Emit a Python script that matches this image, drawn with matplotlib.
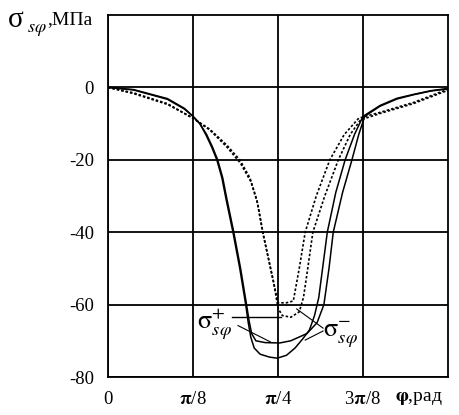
import numpy as np
import matplotlib
matplotlib.use('Agg')
import matplotlib.pyplot as plt

plt.rcParams['font.family'] = ['Liberation Serif', 'DejaVu Serif']
plt.rcParams['mathtext.fontset'] = 'stix'

# phi in units of pi/8, stress in MPa
s1_phi = [0, 0.3, 0.7, 0.9, 1.0, 1.08, 1.15, 1.22, 1.28, 1.34, 1.39, 1.47, 1.55, 1.62, 1.65, 1.68,
          1.72, 1.79, 1.9, 1.99, 2.1, 2.2, 2.29, 2.37, 2.43, 2.48, 2.53, 2.58, 2.68, 2.79,
          2.9, 3.0, 3.2, 3.4, 3.6, 3.8, 4.0]
s1_val = [0, -0.7, -3.3, -6.0, -8, -10, -13, -16.5, -20, -25, -31, -40, -50, -60, -65, -69,
          -72, -73.7, -74.5, -74.8, -74, -72, -69.5, -67, -63, -58, -49, -40, -29, -20,
          -13, -8, -5, -3, -1.9, -0.9, -0.3]

s2_phi = [0, 0.3, 0.7, 0.9, 1.0, 1.08, 1.16, 1.23, 1.29, 1.35, 1.40, 1.48, 1.56, 1.63, 1.66,
          1.69, 1.74, 1.85, 2.02, 2.15, 2.34, 2.46, 2.54, 2.6, 2.65, 2.76, 2.87, 2.95,
          3.02, 3.2, 3.4, 3.6, 3.8, 4.0]
s2_val = [0, -0.6, -3.1, -5.8, -8, -10, -13, -16.5, -20, -25, -31, -40, -50, -60, -64.5,
          -68, -70, -70.5, -70.6, -70, -68, -65, -60, -50, -40, -29, -20, -13,
          -8, -5.2, -3.2, -2.0, -1.0, -0.4]

d1_phi = [0, 0.3, 0.7, 1.0, 1.2, 1.4, 1.55, 1.67, 1.75, 1.82, 1.94, 2.0, 2.1, 2.18,
          2.25, 2.32, 2.45, 2.61, 2.78, 2.95, 3.2, 3.59, 3.9, 4.0]
d1_val = [0, -1.7, -4.7, -8.5, -11.6, -16, -20, -25, -31, -40, -53, -59.5, -59.5, -59,
          -50, -40, -30, -20, -13, -8.5, -6.9, -4.2, -1.4, -0.5]

d2_phi = [0, 0.3, 0.7, 1.0, 1.2, 1.4, 1.56, 1.68, 1.76, 1.83, 1.95, 2.0, 2.05, 2.15,
          2.25, 2.3, 2.35, 2.41, 2.55, 2.71, 2.85, 2.97, 3.2, 3.59, 3.9, 4.0]
d2_val = [0, -1.5, -4.5, -8.5, -11.8, -16.5, -21, -26, -32, -41, -54, -61, -63, -63.5,
          -62, -58, -50, -40, -30, -20, -13, -9, -7.2, -4.5, -1.7, -0.8]

x_ticks = [0, 1, 2, 3]
x_tick_labels = ['0', r'$\mathbf{\pi}$/8', r'$\mathbf{\pi}$/4', r'3$\mathbf{\pi}$/8']
y_ticks = [0, -20, -40, -60, -80]

u = np.pi / 8

fig = plt.figure(figsize=(4.6, 4.15), dpi=100)
ax = fig.add_axes([108 / 460, 38 / 415, 340 / 460, 362 / 415])

ax.plot(np.array(s1_phi) * u, s1_val, color='black', lw=1.1)
ax.plot(np.array(s2_phi) * u, s2_val, color='black', lw=1.1)
ax.plot(np.array(d1_phi) * u, d1_val, color='black', lw=1.2, ls=(0, (1.5, 1.2)))
ax.plot(np.array(d2_phi) * u, d2_val, color='black', lw=1.2, ls=(0, (1.5, 1.2)))

ax.set_xlim(0, 4 * u)
ax.set_ylim(-80, 20)
ax.set_xticks(np.array(x_ticks) * u)
ax.set_xticklabels(x_tick_labels)
ax.set_yticks(y_ticks)
ax.set_yticklabels([str(v) for v in y_ticks])
ax.tick_params(length=0, labelsize=13.5, pad=10)
ax.grid(True, color='black', lw=1.3)
for sp in ax.spines.values():
    sp.set_linewidth(1.3)

# leader labels
ax.plot([1.46 * u, 2.03 * u], [-63.5, -63.5], color='black', lw=1.0)
ax.plot([1.53 * u, 1.91 * u], [-65.8, -70.3], color='black', lw=0.8)
ax.text(1.46 * u, -65.5, r'$\mathrm{\sigma}^{+}_{s\varphi}$', ha='right', va='center', fontsize=19)
ax.plot([2.53 * u, 2.22 * u], [-66.5, -61.2], color='black', lw=0.8)
ax.plot([2.53 * u, 2.32 * u], [-67.3, -69.8], color='black', lw=0.8)
ax.text(2.53 * u, -68.5, r'$\mathrm{\sigma}^{-}_{s\varphi}$', ha='left', va='center', fontsize=19)

fig.text(8 / 460, 1 - 20 / 415, 'σ', fontsize=21, va='center')
fig.text(27 / 460, 1 - 29 / 415, r'$s\varphi$', fontsize=13, va='center')
fig.text(47 / 460, 1 - 20 / 415, ',МПа', fontsize=14, va='center')
fig.text(395 / 460, 1 - 398 / 415, r'$\mathbf{\varphi}$,рад', fontsize=14, va='center')

fig.savefig('out.png', dpi=100)
